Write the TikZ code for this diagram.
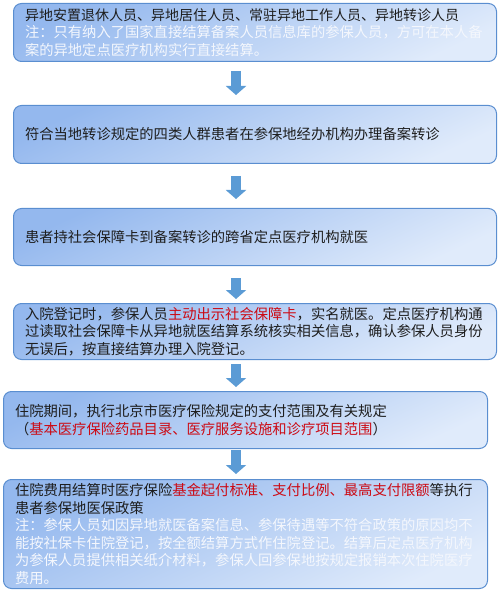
\documentclass[tikz,border=0pt]{standalone}
\usepackage{fontspec}
\setmainfont{Noto Sans CJK SC}
\usepackage{xcolor}
\usetikzlibrary{arrows.meta}

\definecolor{boxhi}{HTML}{94B8EE}
\definecolor{boxlo}{HTML}{E0EBFB}
\definecolor{boxedge}{HTML}{5A8ED0}
\definecolor{flowblue}{HTML}{5B9BD5}
\definecolor{ink}{HTML}{1E1E1E}
\definecolor{hot}{HTML}{CC0A14}
\definecolor{note}{HTML}{F4F7FD}

\begin{document}
\begin{tikzpicture}[x=1pt, y=-1pt]
	\tikzstyle{stage}=[draw=boxedge, line width=1pt, rounded corners=8pt, top color=boxhi, bottom color=boxlo, shading angle=25, anchor=north west, align=left, inner xsep=11.5pt, inner ysep=0pt, text=ink, font=\fontsize{14.3}{17.5}\selectfont]
	\tikzstyle{flow}=[draw=flowblue, line width=10pt, -{Triangle[width=20pt,length=9pt]}]

	\useasboundingbox (0,0) rectangle (499,593);
	\coordinate (ax) at (236,0);

	% the six steps
	\node[stage, text width=460pt, minimum height=58pt] (who) at (13,3) {{\fontsize{14}{17.5}\selectfont 异地安置退休人员、异地居住人员、常驻异地工作人员、异地转诊人员}\\
		\textcolor{note}{注：只有纳入了国家直接结算备案人员信息库的参保人员，方可在本人备}\\
		\textcolor{note}{案的异地定点医疗机构实行直接结算。}};
	\node[stage, text width=460pt, minimum height=58pt] (file) at (13,105) {符合当地转诊规定的四类人群患者在参保地经办机构办理备案转诊};
	\node[stage, text width=460pt, minimum height=57pt] (visit) at (13,208) {患者持社会保障卡到备案转诊的跨省定点医疗机构就医};
	\node[stage, text width=460pt, minimum height=56pt] (admit) at (13,303) {入院登记时，参保人员\textcolor{hot}{主动出示社会保障卡}，实名就医。定点医疗机构通\\
		过读取社会保障卡从异地就医结算系统核实相关信息，确认参保人员身份\\
		无误后，按直接结算办理入院登记。};
	\node[stage, text width=461pt, minimum height=57pt] (stay) at (3,391) {住院期间，执行北京市医疗保险规定的支付范围及有关规定\\
		（\textcolor{hot}{基本医疗保险药品目录、医疗服务设施和诊疗项目范围}）};
	\node[stage, text width=461pt, minimum height=109pt] (pay) at (3,479) {住院费用结算时医疗保险\textcolor{hot}{基金起付标准、支付比例、最高支付限额}等执行\\
		患者参保地医保政策\\
		\textcolor{note}{注：参保人员如因异地就医备案信息、参保待遇等不符合政策的原因均不}\\
		\textcolor{note}{能按社保卡住院登记，按全额结算方式作住院登记。结算后定点医疗机构}\\
		\textcolor{note}{为参保人员提供相关纸介材料，参保人回参保地按规定报销本次住院医疗}\\
		\textcolor{note}{费用。}};

	% arrows between steps
	\draw[flow, shorten <=9pt, shorten >=10pt] (who.south -| ax) -- (file.north -| ax);
	\draw[flow, shorten <=12pt, shorten >=9pt] (file.south -| ax) -- (visit.north -| ax);
	\draw[flow, shorten <=12pt, shorten >=4pt] (visit.south -| ax) -- (admit.north -| ax);
	\draw[flow, shorten <=4pt, shorten >=4pt] (admit.south -| ax) -- (stay.north -| ax);
	\draw[flow, shorten <=1pt, shorten >=5pt] (stay.south -| ax) -- (pay.north -| ax);
\end{tikzpicture}
\end{document}
